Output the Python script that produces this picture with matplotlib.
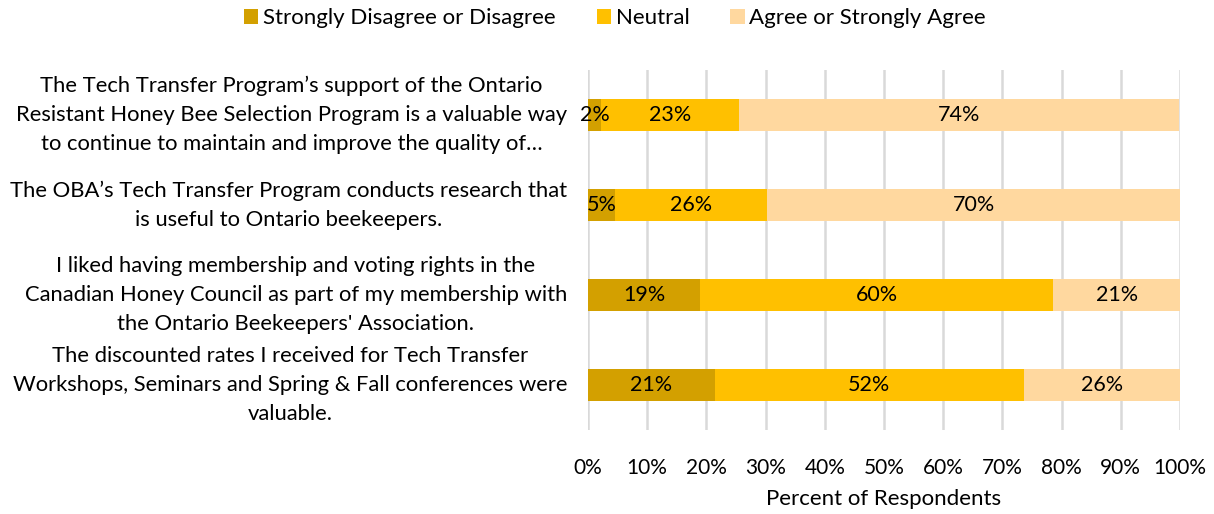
"""Stacked horizontal bar chart of agreement with four Tech Transfer statements."""
import matplotlib
matplotlib.use("Agg")
import matplotlib.pyplot as plt
from matplotlib.patches import Patch

statements = [
    "The Tech Transfer Program\u2019s support of the Ontario\n"
    "Resistant Honey Bee Selection Program is a valuable way\n"
    "to continue to maintain and improve the quality of\u2026",
    "The OBA\u2019s Tech Transfer Program conducts research that\n"
    "is useful to Ontario beekeepers.",
    "I liked having membership and voting rights in the\n"
    "Canadian Honey Council as part of my membership with\n"
    "the Ontario Beekeepers' Association.",
    "The discounted rates I received for Tech Transfer\n"
    "Workshops, Seminars and Spring & Fall conferences were\n"
    "valuable.",
]
disagree = [2.2, 4.6, 18.9, 21.4]
neutral = [23.3, 25.7, 59.7, 52.2]
agree = [74.4, 69.7, 21.4, 26.4]

series = [
    ("Strongly Disagree or Disagree", disagree, "#D3A000"),
    ("Neutral", neutral, "#FFC000"),
    ("Agree or Strongly Agree", agree, "#FFD89F"),
]

plt.rcParams["font.family"] = ["Lato", "DejaVu Sans"]

fig = plt.figure(figsize=(12.14, 5.14), dpi=100)
ax = fig.add_axes([588 / 1214, 1 - 430 / 514, 592 / 1214, 360 / 514])

ypos = list(range(len(statements)))
left = [0.0] * len(statements)
for name, vals, col in series:
    ax.barh(ypos, vals, left=left, height=0.345, color=col, zorder=2)
    for y, l, v in zip(ypos, left, vals):
        ax.text(l + v / 2, y, f"{v:.0f}%", ha="center", va="center",
                fontsize=15.5, color="#000000", zorder=3)
    left = [l + v for l, v in zip(left, vals)]

ax.set_xlim(0, 100)
ax.set_ylim(len(statements) - 0.5, -0.5)
ax.set_xticks(range(0, 101, 10))
ax.set_xticklabels([f"{t}%" for t in range(0, 101, 10)], fontsize=15)
ax.set_yticks(ypos)
ax.set_yticklabels(statements, fontsize=15.8, multialignment="center",
                   linespacing=1.56, va="center")
ax.tick_params(axis="x", length=0, pad=20)
ax.tick_params(axis="y", length=0, pad=15)
ax.grid(axis="x", color="#D9D9D9", lw=1.8, zorder=0)
for s in ax.spines.values():
    s.set_visible(False)
ax.set_xlabel("Percent of Respondents", fontsize=16, labelpad=8)

handles = [Patch(facecolor=c, label=n) for n, _, c in series]
fig.legend(handles=handles, loc="center", bbox_to_anchor=(615 / 1214, 1 - 18 / 514),
           ncol=3, frameon=False, fontsize=16, handlelength=0.65, handleheight=0.65,
           handletextpad=0.2, columnspacing=1.85)

fig.savefig("out.png", dpi=100)
